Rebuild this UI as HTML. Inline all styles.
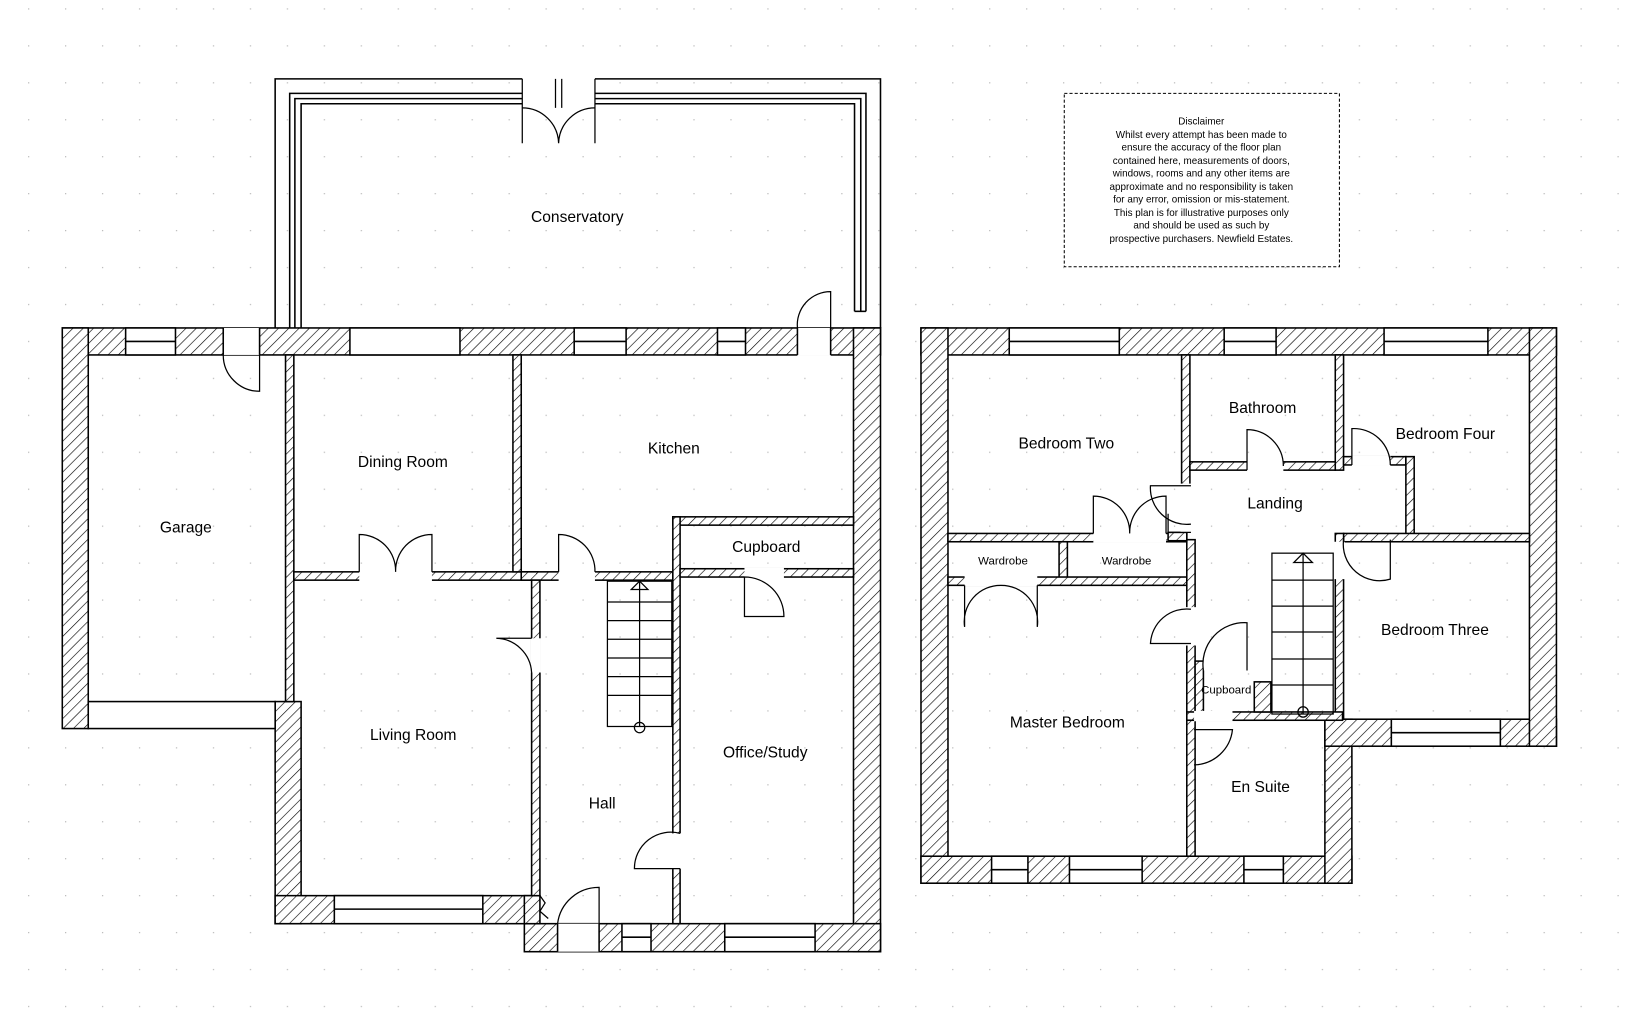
<!DOCTYPE html>
<html><head><meta charset="utf-8"><style>
html,body{margin:0;padding:0;background:#fff;}
svg{display:block;}
text{font-family:"Liberation Sans",sans-serif;fill:#000;}
</style></head><body>
<svg width="1626" height="1015" viewBox="0 0 1566 978" preserveAspectRatio="none" xmlns="http://www.w3.org/2000/svg">
<defs>
<pattern id="dots" width="35.6" height="35.6" patternUnits="userSpaceOnUse" x="27" y="8">
<rect x="0" y="0" width="1.2" height="1.2" fill="#bbb"/></pattern>
<pattern id="h" width="7" height="7" patternUnits="userSpaceOnUse" patternTransform="rotate(45)">
<rect width="7" height="7" fill="#fff"/><line x1="0" y1="0" x2="0" y2="7" stroke="#000" stroke-width="1.2"/></pattern>
</defs>
<rect width="1566" height="978" fill="#fff"/>
<rect width="1566" height="978" fill="url(#dots)"/>

<g stroke="#000" stroke-width="1.5" fill="url(#h)">
<!-- GROUND FLOOR outer walls -->
<rect x="60" y="316" width="788" height="26"/>
<rect x="60" y="316" width="25" height="386"/>
<rect x="822" y="316" width="26" height="601"/>
<rect x="265" y="676" width="25" height="214"/>
<rect x="265" y="863" width="253" height="27"/>
<rect x="505" y="890" width="343" height="27"/>
<rect x="505" y="863" width="15" height="27"/>
<!-- interior -->
<rect x="275" y="342" width="8" height="334"/>
<rect x="283" y="551" width="235" height="8"/>
<rect x="494" y="342" width="8" height="209"/>
<rect x="502" y="551" width="146" height="8"/>
<rect x="648" y="498" width="174" height="8"/>
<rect x="648" y="498" width="7" height="392"/>
<rect x="655" y="548" width="167" height="8"/>
<rect x="512" y="559" width="8" height="304"/>
</g>
<!-- openings in ground walls (white) -->
<g fill="#fff" stroke="#000" stroke-width="1.5">
<rect x="85" y="676" width="180" height="26"/>
<rect x="121" y="316" width="48" height="26"/><line x1="121" y1="329" x2="169" y2="329"/>
<rect x="215" y="316" width="35" height="26" stroke="none"/>
<line x1="215" y1="316" x2="215" y2="342"/><line x1="250" y1="316" x2="250" y2="342"/>
<rect x="337" y="316" width="106" height="26"/>
<rect x="553" y="316" width="50" height="26"/><line x1="553" y1="329" x2="603" y2="329"/>
<rect x="691" y="316" width="27" height="26"/><line x1="691" y1="329" x2="718" y2="329"/>
<rect x="768" y="316" width="32" height="27" stroke="none"/>
<line x1="768" y1="316" x2="768" y2="342"/><line x1="800" y1="316" x2="800" y2="342"/>
<rect x="322" y="863" width="143" height="27"/><line x1="322" y1="876" x2="465" y2="876"/>
<rect x="537" y="890" width="40" height="27" stroke="none"/>
<line x1="537" y1="890" x2="537" y2="917"/><line x1="577" y1="890" x2="577" y2="917"/>
<rect x="599" y="890" width="28" height="27"/><line x1="599" y1="903" x2="627" y2="903"/>
<rect x="698" y="890" width="87" height="27"/><line x1="698" y1="903" x2="785" y2="903"/>
<!-- door gaps interior -->
<rect x="346" y="550" width="70" height="10" stroke="none"/>
<rect x="538" y="550" width="35" height="10" stroke="none"/>
<rect x="511" y="615" width="10" height="33" stroke="none"/>
<rect x="647" y="803" width="10" height="34" stroke="none"/>
<rect x="717" y="547" width="38" height="10" stroke="none"/>
</g>
<!-- conservatory -->
<g fill="none" stroke="#000" stroke-width="1.5">
<path d="M265 316 V76 H848 V316"/>
<path d="M279 316 V90 H834 V300"/>
<path d="M284 316 V95 H829 V300"/>
<path d="M290 316 V100 H823 V300"/>
<line x1="823" y1="300" x2="834" y2="300"/>
</g>
<rect x="503" y="74" width="70" height="30" fill="#fff"/>
<g fill="none" stroke="#000" stroke-width="1.2">
<path d="M503 76 V138 M573 76 V138 M535 76 V104 M541 76 V104"/>
<path d="M503 104 A35 35 0 0 1 538 138 M573 104 A35 35 0 0 0 538 138"/>
<!-- ground doors -->
<path d="M215 342 A35 35 0 0 0 250 377 V342"/>
<path d="M800 316 V281 A32 32 0 0 0 768 316"/>
<path d="M346 551 V515 A35 35 0 0 1 381 551 M416 551 V515 A35 35 0 0 0 381 551"/>
<path d="M538 551 V515 A35 35 0 0 1 573 551"/>
<path d="M512 615 H478 A35 35 0 0 1 512 648"/>
<path d="M717 556 V594 H755 A38 38 0 0 0 717 556" />
<path d="M655 803 A35 35 0 0 0 611 837 H655"/>
<path d="M537 890 A40 40 0 0 1 577 855 V890"/>
<path d="M520 863 L525 870 L520 878 L528 885"/>
<!-- stairs -->
<rect x="585" y="560" width="62" height="140"/>
<line x1="616" y1="560" x2="616" y2="700"/>
<line x1="585" y1="580" x2="647" y2="580"/><line x1="585" y1="598" x2="647" y2="598"/>
<line x1="585" y1="616" x2="647" y2="616"/><line x1="585" y1="634" x2="647" y2="634"/>
<line x1="585" y1="652" x2="647" y2="652"/><line x1="585" y1="670" x2="647" y2="670"/>
<path d="M608 568 L616 560 L624 568 Z"/><circle cx="616" cy="701" r="5"/>
</g>

<!-- FIRST FLOOR -->
<g stroke="#000" stroke-width="1.5" fill="url(#h)">
<rect x="887" y="316" width="612" height="26"/>
<rect x="887" y="316" width="26" height="535"/>
<rect x="887" y="825" width="415" height="26"/>
<rect x="1276" y="693" width="26" height="158"/>
<rect x="1276" y="693" width="223" height="26"/>
<rect x="1473" y="316" width="26" height="403"/>
<!-- interior -->
<rect x="1138" y="342" width="8" height="125"/>
<rect x="1146" y="445" width="140" height="8"/>
<rect x="1286" y="342" width="8" height="111"/>
<rect x="1294" y="440" width="60" height="8"/>
<rect x="1354" y="440" width="8" height="80"/>
<rect x="1294" y="514" width="179" height="8"/>
<rect x="1286" y="514" width="8" height="179"/>
<rect x="913" y="514" width="230" height="8"/>
<rect x="1020" y="522" width="8" height="38"/>
<rect x="913" y="556" width="230" height="8"/>
<rect x="1143" y="520" width="8" height="175"/>
<rect x="1125" y="513" width="18" height="8"/>
<rect x="1143" y="686" width="150" height="8"/>
<rect x="1143" y="694" width="8" height="131"/>
<rect x="1151" y="637" width="8" height="49"/>
<rect x="1208" y="657" width="16" height="29"/>
</g>
<g fill="#fff" stroke="#000" stroke-width="1.5">
<rect x="972" y="316" width="106" height="26"/><line x1="972" y1="329" x2="1078" y2="329"/>
<rect x="1179" y="316" width="50" height="26"/><line x1="1179" y1="329" x2="1229" y2="329"/>
<rect x="1333" y="316" width="100" height="26"/><line x1="1333" y1="329" x2="1433" y2="329"/>
<rect x="1340" y="693" width="105" height="26"/><line x1="1340" y1="706" x2="1445" y2="706"/>
<rect x="955" y="825" width="35" height="26"/><line x1="955" y1="838" x2="990" y2="838"/>
<rect x="1030" y="825" width="70" height="26"/><line x1="1030" y1="838" x2="1100" y2="838"/>
<rect x="1198" y="825" width="38" height="26"/><line x1="1198" y1="838" x2="1236" y2="838"/>
<!-- door gaps -->
<rect x="1201" y="444" width="35" height="10" stroke="none"/>
<rect x="1302" y="439" width="37" height="10" stroke="none"/>
<rect x="1137" y="466" width="10" height="47" stroke="none"/>
<rect x="1053" y="513" width="70" height="10" stroke="none"/>
<rect x="929" y="555" width="70" height="10" stroke="none"/>
<rect x="1142" y="585" width="10" height="37" stroke="none"/>
<rect x="1159" y="636" width="40" height="10" stroke="none"/>
<rect x="1150" y="685" width="37" height="10" stroke="none"/>
<rect x="1285" y="522" width="10" height="36" stroke="none"/>
</g>
<g fill="none" stroke="#000" stroke-width="1.2">
<path d="M1201 453 V414 A35 35 0 0 1 1236 449"/>
<path d="M1302 448 V413 A35 35 0 0 1 1339 448"/>
<path d="M1147 468 H1108 A35 35 0 0 0 1147 505"/>
<path d="M1125 513 V495 M1125 513 L1147 513"/>
<path d="M1053 514 V478 A35 35 0 0 1 1088 514 M1123 514 V478 A35 35 0 0 0 1088 514"/>
<path d="M929 564 V604 A35 35 0 0 1 964 564 M999 564 V604 A35 35 0 0 0 964 564"/>
<path d="M1147 587 A35 35 0 0 0 1108 620 H1147"/>
<path d="M1159 646 A40 40 0 0 1 1201 600 V646"/>
<path d="M1150 737 A38 38 0 0 0 1187 703 H1150"/>
<path d="M1294 520 A35 35 0 0 0 1339 558 V520"/>
<!-- stairs -->
<rect x="1225" y="533" width="59" height="155"/>
<line x1="1255" y1="533" x2="1255" y2="688"/>
<line x1="1225" y1="559" x2="1284" y2="559"/><line x1="1225" y1="584" x2="1284" y2="584"/>
<line x1="1225" y1="609" x2="1284" y2="609"/><line x1="1225" y1="635" x2="1284" y2="635"/>
<line x1="1225" y1="660" x2="1284" y2="660"/>
<path d="M1246 542 L1255 533 L1264 542 Z"/><circle cx="1255" cy="686" r="5"/>
</g>

<!-- disclaimer -->
<rect x="1025" y="90" width="265" height="167" fill="#fff" stroke="#000" stroke-width="1" stroke-dasharray="3,2"/>
<g font-size="9.5" text-anchor="middle">
<text x="1157" y="120">Disclaimer</text>
<text x="1157" y="133">Whilst every attempt has been made to</text>
<text x="1157" y="145">ensure the accuracy of the floor plan</text>
<text x="1157" y="158">contained here, measurements of doors,</text>
<text x="1157" y="170">windows, rooms and any other items are</text>
<text x="1157" y="183">approximate and no responsibility is taken</text>
<text x="1157" y="195">for any error, omission or mis-statement.</text>
<text x="1157" y="208">This plan is for illustrative purposes only</text>
<text x="1157" y="220">and should be used as such by</text>
<text x="1157" y="233">prospective purchasers. Newfield Estates.</text>
</g>

<g font-size="15" text-anchor="middle">
<text x="556" y="214">Conservatory</text>
<text x="179" y="513">Garage</text>
<text x="388" y="450">Dining Room</text>
<text x="649" y="437">Kitchen</text>
<text x="738" y="532">Cupboard</text>
<text x="398" y="713">Living Room</text>
<text x="737" y="730">Office/Study</text>
<text x="580" y="779">Hall</text>
<text x="1027" y="432">Bedroom Two</text>
<text x="1216" y="398">Bathroom</text>
<text x="1392" y="423">Bedroom Four</text>
<text x="1228" y="490">Landing</text>
<text x="1382" y="612">Bedroom Three</text>
<text x="1028" y="701">Master Bedroom</text>
<text x="1214" y="763">En Suite</text>
</g>
<g font-size="11" text-anchor="middle">
<text x="966" y="544">Wardrobe</text>
<text x="1085" y="544">Wardrobe</text>
<text x="1181" y="668">Cupboard</text>
</g>
</svg>
</body></html>
